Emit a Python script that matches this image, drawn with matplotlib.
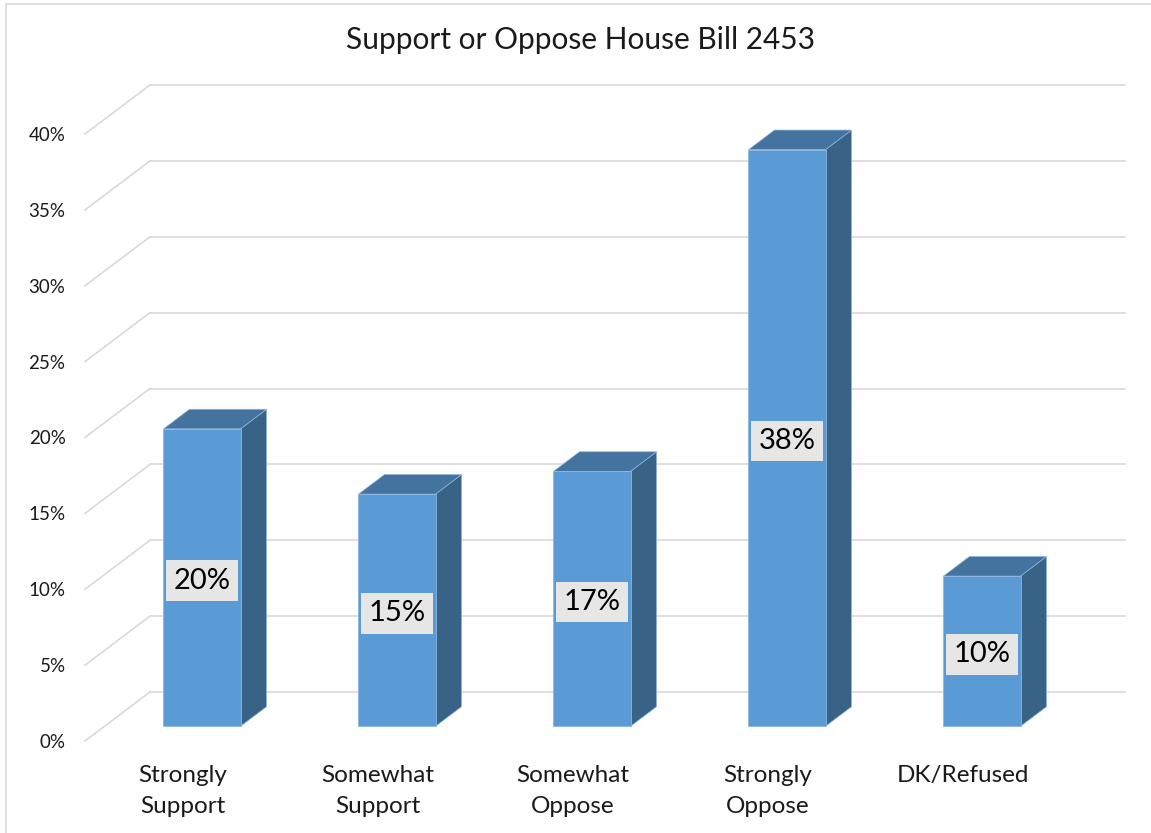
import matplotlib
matplotlib.use("Agg")
import matplotlib.pyplot as plt
from matplotlib.patches import Polygon
from matplotlib.lines import Line2D
import numpy as np

plt.rcParams['font.family'] = ['Lato', 'DejaVu Sans']

# data
categories = ["Strongly\nSupport", "Somewhat\nSupport", "Somewhat\nOppose",
              "Strongly\nOppose", "DK/Refused"]
values = [19.6, 15.3, 16.8, 38.0, 9.9]
yticks = [0, 5, 10, 15, 20, 25, 30, 35, 40]
title = "Support or Oppose House Bill 2453"

FRONT = "#5B9BD5"
TOP = "#44739F"
SIDE = "#386387"
GRID = "#D9D9D9"

W, H = 1151, 833
fig = plt.figure(figsize=(W / 100, H / 100), dpi=100)
# axes = front plane of the 3D box
ax = fig.add_axes([85 / W, (H - 741) / H, 975 / W, 607 / H])
ax.set_xlim(-0.5, 4.5)
ax.set_ylim(0, 40)
for s in ax.spines.values():
    s.set_visible(False)

# depth vector (front plane -> back wall), in data units
DX = 65 / 195
DY = 49 / (607 / 40)

# back wall gridlines and side wall diagonals
for v in yticks:
    ax.plot([-0.5 + DX, 4.5 + DX], [v + DY, v + DY], color=GRID, lw=1.2,
            clip_on=False, zorder=1)
    ax.plot([-0.5, -0.5 + DX], [v, v + DY], color=GRID, lw=1.2,
            clip_on=False, zorder=1)

# bars sit between 30% and 70% of the depth
f0, f1 = 0.3, 0.7
bw = 0.395
x = np.arange(len(values))
xf = x + f0 * DX
b0 = f0 * DY
d = (f1 - f0)
ax.bar(xf, values, width=bw, bottom=b0, color=FRONT, edgecolor="#8DB6DF",
       linewidth=0.6, clip_on=False, zorder=3)
for xi, v in zip(xf, values):
    xl, xr = xi - bw / 2, xi + bw / 2
    top = b0 + v
    side = Polygon([(xr, b0), (xr + d * DX, b0 + d * DY),
                    (xr + d * DX, top + d * DY), (xr, top)],
                   closed=True, facecolor=SIDE, edgecolor="#8DB6DF",
                   linewidth=0.5, clip_on=False, zorder=2)
    lid = Polygon([(xl, top), (xl + d * DX, top + d * DY),
                   (xr + d * DX, top + d * DY), (xr, top)],
                  closed=True, facecolor=TOP, edgecolor="#8DB6DF",
                  linewidth=0.5, clip_on=False, zorder=2)
    ax.add_patch(side)
    ax.add_patch(lid)
    ax.text(xi, b0 + v / 2 - 0.2, f"{v:.0f}%", ha="center", va="center",
            fontsize=21, color="black", zorder=5,
            bbox=dict(boxstyle="square,pad=0.25", facecolor="#E6E6E6",
                      edgecolor="none"))

ax.set_yticks(yticks)
ax.set_yticklabels([f"{t}%" for t in yticks], fontsize=13.5, color="#1a1a1a")
ax.set_xticks(x)
ax.set_xticklabels(categories, fontsize=17.5, color="#1a1a1a")
for lbl in ax.get_xticklabels():
    lbl.set_linespacing(1.6)
ax.tick_params(axis="y", length=0, pad=14)
ax.tick_params(axis="x", length=0, pad=17)

fig.text(581 / W, 1 - 40 / H, title, ha="center", va="center", fontsize=21.5,
         color="#1a1a1a")

# chart border (top and left visible)
fig.add_artist(Line2D([6 / W, 6 / W], [0, 1 - 4 / H], color=GRID, lw=1.2,
                      transform=fig.transFigure))
fig.add_artist(Line2D([6 / W, 1], [1 - 4 / H, 1 - 4 / H], color=GRID, lw=1.2,
                      transform=fig.transFigure))

fig.savefig("out.png", dpi=100, facecolor="white")
